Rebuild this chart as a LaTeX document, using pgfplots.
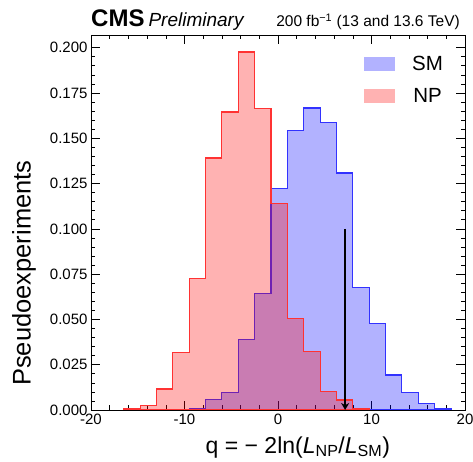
\documentclass[border=0pt]{standalone}
\usepackage{pgfplots}
\pgfplotsset{compat=1.18}
\usepackage{fontspec}
\setmainfont{Liberation Sans}
\usetikzlibrary{arrows.meta}
\definecolor{smline}{RGB}{50,50,255}
\definecolor{npline}{RGB}{255,50,50}
\begin{document}
\begin{tikzpicture}
\useasboundingbox (-91pt,-52pt) rectangle (382pt,410pt);
\begin{axis}[
 scale only axis, width=374pt, height=375pt,
 xmin=-20, xmax=20, ymin=0, ymax=0.207,
 xtick={-20,-10,0,10,20}, minor x tick num=4,
 ytick={0,0.025,0.05,0.075,0.1,0.125,0.15,0.175,0.2}, minor y tick num=4,
 tick align=inside, major tick length=9pt, minor tick length=4.5pt,
 tick style={black, line width=0.6pt},
 axis line style={line width=0.8pt},
 /pgf/number format/assume math mode=true,
 yticklabel style={/pgf/number format/.cd, fixed, fixed zerofill, precision=3},
 ticklabel style={font=\fontsize{15}{18}\selectfont},
 clip mode=individual,
 xlabel={q = − 2ln(\textit{L}\textsubscript{NP}/\textit{L}\textsubscript{SM})},
 ylabel={Pseudoexperiments},
 xlabel style={at={(axis description cs:0.553,-0.115)}, anchor=base, font=\fontsize{23}{26}\selectfont},
 ylabel style={at={(axis description cs:-0.179,0.365)}, anchor=center, font=\fontsize{25.5}{30}\selectfont},
 legend entries={SM,NP},
 legend style={at={(rel axis cs:0.730,0.944)}, anchor=north west, draw=none, fill=none,
   inner sep=0pt, nodes={inner sep=0pt},
   font=\fontsize{20.5}{24}\selectfont, row sep=16pt, column sep=17pt},
 legend image code/.code={\fill[#1, draw=none] (0pt,-7pt) rectangle (31pt,7pt);},
]
\addplot[const plot, draw=smline, line width=1.1pt, line join=miter, fill=blue, fill opacity=0.3, draw opacity=1] coordinates {
(-11.25,0.0005) (-9.5,0.0006) (-7.75,0.0059) (-6,0.0098) (-4.25,0.0387) (-2.5,0.0641)
(-0.75,0.1221) (1.0,0.1543) (2.75,0.1667) (4.5,0.1588) (6.25,0.1308) (8.0,0.0676)
(9.75,0.0479) (11.5,0.0193) (13.25,0.0098) (15,0.0037) (16.75,0.0006) (18.5,0.0006)
} \closedcycle;
\addplot[const plot, draw=npline, line width=1.1pt, line join=miter, fill=red, fill opacity=0.3, draw opacity=1] coordinates {
(-16.5,0.0009) (-14.75,0.0024) (-13,0.0116) (-11.25,0.0319) (-9.5,0.0728) (-7.75,0.1391)
(-6,0.1645) (-4.25,0.1976) (-2.5,0.1663) (-0.75,0.1142) (1.0,0.0507) (2.75,0.0322)
(4.5,0.0101) (6.25,0.0055) (8.0,0.0009) (9.75,0.0009)
} \closedcycle;
\addplot[forget plot, black, line width=1.5pt, -{Stealth[length=7pt,width=8pt]}] coordinates {(7.18,0.1) (7.18,0.0)};
\node[anchor=base west, inner sep=0, yshift=8pt] at (rel axis cs:0,1) {\fontsize{24}{26}\selectfont\bfseries CMS\,\fontsize{19}{20}\selectfont\mdseries\itshape Preliminary};
\node[anchor=base east, inner sep=0, xshift=-5pt, yshift=8pt] at (rel axis cs:1,1) {\fontsize{15.5}{17}\selectfont 200 fb\textsuperscript{−1} (13 and 13.6 TeV)};
\end{axis}
\end{tikzpicture}
\end{document}
